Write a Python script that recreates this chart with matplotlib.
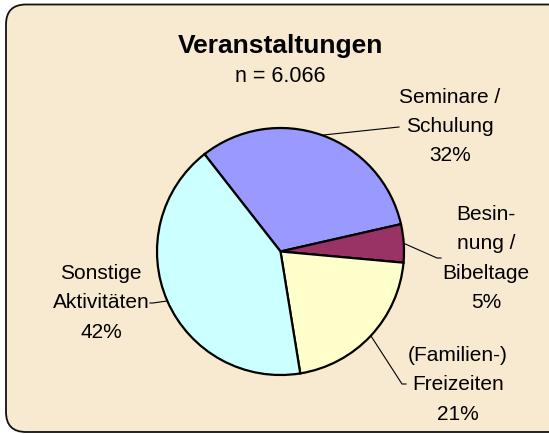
import numpy as np
import matplotlib
matplotlib.use("Agg")
import matplotlib.pyplot as plt
from matplotlib import font_manager as fm
from matplotlib.patches import FancyBboxPatch

# ---- data ----
title = "Veranstaltungen"
subtitle = "n = 6.066"
categories = ["Seminare /\nSchulung", "Besin-\nnung /\nBibeltage", "(Familien-)\nFreizeiten", "Sonstige\nAktivitäten"]
values = [32, 5, 21, 42]
colors = ["#9999FF", "#993366", "#FFFFCC", "#CCFFFF"]

# ---- layout (pixels in a 549x434 canvas, y downward) ----
W, H = 549, 434
cx, cy, R = 280.5, 251.5, 123.5
start_angle = 128
label_pos = [(450, 126.5), (486, 258.5), (458, 385), (101, 303)]
leader_elbow = [(399, 127), (437, 258), (402, 384), (153, 303)]
leader_end = [(399, 127), (441, 258), (406, 384), (150, 303)]

names = {f.name for f in fm.fontManager.ttflist}
if "Liberation Sans Narrow" in names:
    lab_family, lab_size = "Liberation Sans Narrow", 16.5
else:
    lab_family, lab_size = "Liberation Sans", 15

fig = plt.figure(figsize=(W / 100, H / 100), dpi=100)
fig.patch.set_facecolor("white")

bg = fig.add_axes([0, 0, 1, 1])
bg.set_xlim(0, W)
bg.set_ylim(H, 0)
bg.axis("off")
frame = FancyBboxPatch((6, 4.5), 542 - 6 + 40, 432 - 4.5, boxstyle="round,pad=0,rounding_size=20",
                       facecolor="#F7EAD0", edgecolor="#111111", linewidth=1.3, zorder=0)
bg.add_patch(frame)
bg.set_xlim(0, W)

pie_ax = fig.add_axes([(cx - R) / W, (H - cy - R) / H, 2 * R / W, 2 * R / H])
wedges, _ = pie_ax.pie(values, colors=colors, startangle=start_angle, counterclock=False,
                       wedgeprops=dict(edgecolor="black", linewidth=1.6))
for w in wedges:
    w.set_clip_on(False)
pie_ax.set_xlim(-1, 1)
pie_ax.set_ylim(-1, 1)
pie_ax.set_aspect("auto")
pie_ax.axis("off")

# overlay for labels
ov = fig.add_axes([0, 0, 1, 1])
ov.set_xlim(0, W)
ov.set_ylim(H, 0)
ov.axis("off")
ov.patch.set_alpha(0)

ov.text(280, 46, title, ha="center", va="center", fontsize=19, fontweight="bold",
        family="Liberation Sans", color="black")
ov.text(280, 76, subtitle, ha="center", va="center", fontsize=15.5,
        family="Liberation Sans", color="black")

total = sum(values)
ang = start_angle
for i, (lab, v) in enumerate(zip(categories, values)):
    span = 360 * v / total
    mid = np.deg2rad(ang - span / 2)
    ang -= span
    sx, sy = cx + R * np.cos(mid), cy - R * np.sin(mid)
    ex, ey = leader_elbow[i]
    fx, fy = leader_end[i]
    ov.plot([sx, ex, fx], [sy, ey, fy], color="black", lw=0.8)
    pct = f"{round(100 * v / total)}%"
    lx, ly = label_pos[i]
    ov.text(lx, ly, lab + "\n" + pct, ha="center", va="center", multialignment="center",
            fontsize=lab_size, family=[lab_family, "DejaVu Sans"], linespacing=1.68, color="black")

fig.savefig("out.png", dpi=100)
